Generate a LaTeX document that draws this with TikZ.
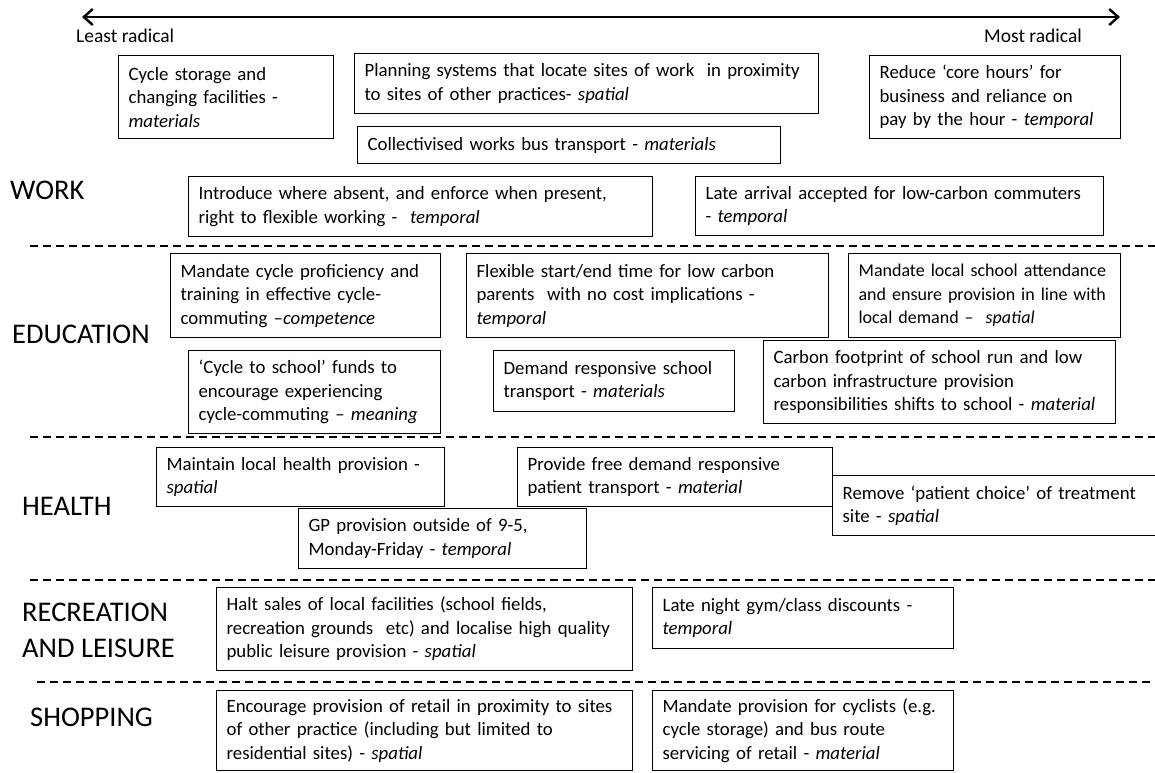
\documentclass[tikz,border=0pt]{standalone}
\usepackage{fontspec}
\setmainfont{Carlito}
\usetikzlibrary{arrows.meta,positioning}
\newcommand{\boxfont}{\fontsize{18.8}{23.5}\selectfont\hyphenpenalty=10000}
\newcommand{\sectfont}{\fontsize{28.5}{36}\selectfont}
\begin{document}
\begin{tikzpicture}[x=1pt,y=-1pt]
    % Styles
        \tikzstyle{block} = [rectangle, draw, line width=1.2pt, align=left, anchor=north west, inner xsep=10pt, inner ysep=4pt, font=\boxfont]
        \tikzstyle{heading} = [anchor=west, align=left, inner sep=0pt, font=\sectfont]
        \tikzstyle{extreme} = [inner sep=0pt, font=\fontsize{19.5}{23.5}\selectfont]
        \tikzstyle{sep} = [draw, dashed, dash pattern=on 8pt off 5pt, line width=1.2pt]
        \tikzstyle{axis} = [draw, line width=2.4pt, {Straight Barb[length=9pt,width=16pt,line width=2.4pt]}-{Straight Barb[length=9pt,width=16pt,line width=2.4pt]}]
        \clip (0,0) rectangle (1155,772);
    % radical scale
        \coordinate (leastend) at (82,17);
        \coordinate (mostend) at (1120,17);
        \path [axis] (leastend) -- (mostend);
        \node [extreme, anchor=west] (least) at (76,36) {Least radical};
        \node [extreme, anchor=east] (most) at (1082,36) {Most radical};
    % section headings
        \node [heading] (work) at (10,190) {WORK};
        \node [heading] (education) at (12,334) {EDUCATION};
        \node [heading] (health) at (22,506) {HEALTH};
        \node [heading] (recreation) at (22,630) {RECREATION\\AND LEISURE};
        \node [heading] (shopping) at (30,717) {SHOPPING};
    % work
        \node [block, text width=195pt, minimum height=83pt] (cyclestore) at (118,55) {Cycle storage and\\changing facilities -\\\textit{materials}};
        \node [block, text width=444pt, minimum height=60pt] (planning) at (354,53) {Planning systems that locate sites of work~ in proximity\\to sites of other practices- \textit{spatial}};
        \node [block, text width=403pt, minimum height=37pt] (busworks) at (357,126) {Collectivised works bus transport - \textit{materials}};
        \node [block, text width=231pt, minimum height=83pt] (corehours) at (869,55) {Reduce ‘core hours’ for\\business and reliance on\\pay by the hour - \textit{temporal}};
        \node [block, text width=444pt, minimum height=60pt] (flexright) at (188,176) {Introduce where absent, and enforce when present,\\right to flexible working -~ \textit{temporal}};
        \node [block, text width=388pt, minimum height=59pt] (latearrival) at (695,176) {Late arrival accepted for low-carbon commuters\\- \textit{temporal}};
    % education
        \node [block, text width=250pt, minimum height=84pt] (proficiency) at (170,253) {Mandate cycle proficiency and\\training in effective cycle-\\commuting –\textit{competence}};
        \node [block, text width=342pt, minimum height=84pt] (flexschool) at (466,253) {Flexible start/end time for low carbon\\parents~ with no cost implications -\\\textit{temporal}};
        \node [block, text width=252pt, minimum height=84pt, font=\fontsize{18}{23.5}\selectfont] (localschool) at (848,253) {Mandate local school attendance\\and ensure provision in line with\\local demand –~ \textit{spatial}};
        \node [block, text width=232pt, minimum height=83pt] (cycleschool) at (188,350) {‘Cycle to school’ funds to\\encourage experiencing\\cycle-commuting – \textit{meaning}};
        \node [block, text width=221pt, minimum height=61pt] (schoolbus) at (493,350) {Demand responsive school\\transport - \textit{materials}};
        \node [block, text width=332pt, minimum height=83pt] (footprint) at (763,340) {Carbon footprint of school run and low\\carbon infrastructure provision\\responsibilities shifts to school - \textit{material}};
    % health
        \node [block, text width=268pt, minimum height=59pt] (localhealth) at (156,447) {Maintain local health provision -\\\textit{spatial}};
        \node [block, text width=295pt, minimum height=59pt] (patientbus) at (517,447) {Provide free demand responsive\\patient transport - \textit{material}};
        \node [block, text width=303pt, minimum height=60pt] (patientchoice) at (832,475) {Remove ‘patient choice’ of treatment\\site - \textit{spatial}};
        \node [block, text width=268pt, minimum height=60pt] (gphours) at (298,508) {GP provision outside of 9-5,\\Monday-Friday - \textit{temporal}};
    % recreation and leisure
        \node [block, text width=396pt, minimum height=83pt] (halt) at (216,587) {Halt sales of local facilities (school fields,\\recreation grounds~ etc) and localise high quality\\public leisure provision - \textit{spatial}};
        \node [block, text width=281pt, minimum height=61pt] (gym) at (652,587) {Late night gym/class discounts -\\\textit{temporal}};
    % shopping
        \node [block, text width=396pt, minimum height=80pt] (retail) at (216,690) {Encourage provision of retail in proximity to sites\\of other practice (including but limited to\\residential sites) - \textit{spatial}};
        \node [block, text width=281pt, minimum height=80pt] (cyclists) at (652,690) {Mandate provision for cyclists (e.g.\\cycle storage) and bus route\\servicing of retail - \textit{material}};
    % separators
        \path [sep] (30,246) -- (1155,246);
        \path [sep] (30,437) -- (1155,437);
        \path [sep] (30,580) -- (1155,580);
        \path [sep] (37,682) -- (1155,682);
\end{tikzpicture}
\end{document}
